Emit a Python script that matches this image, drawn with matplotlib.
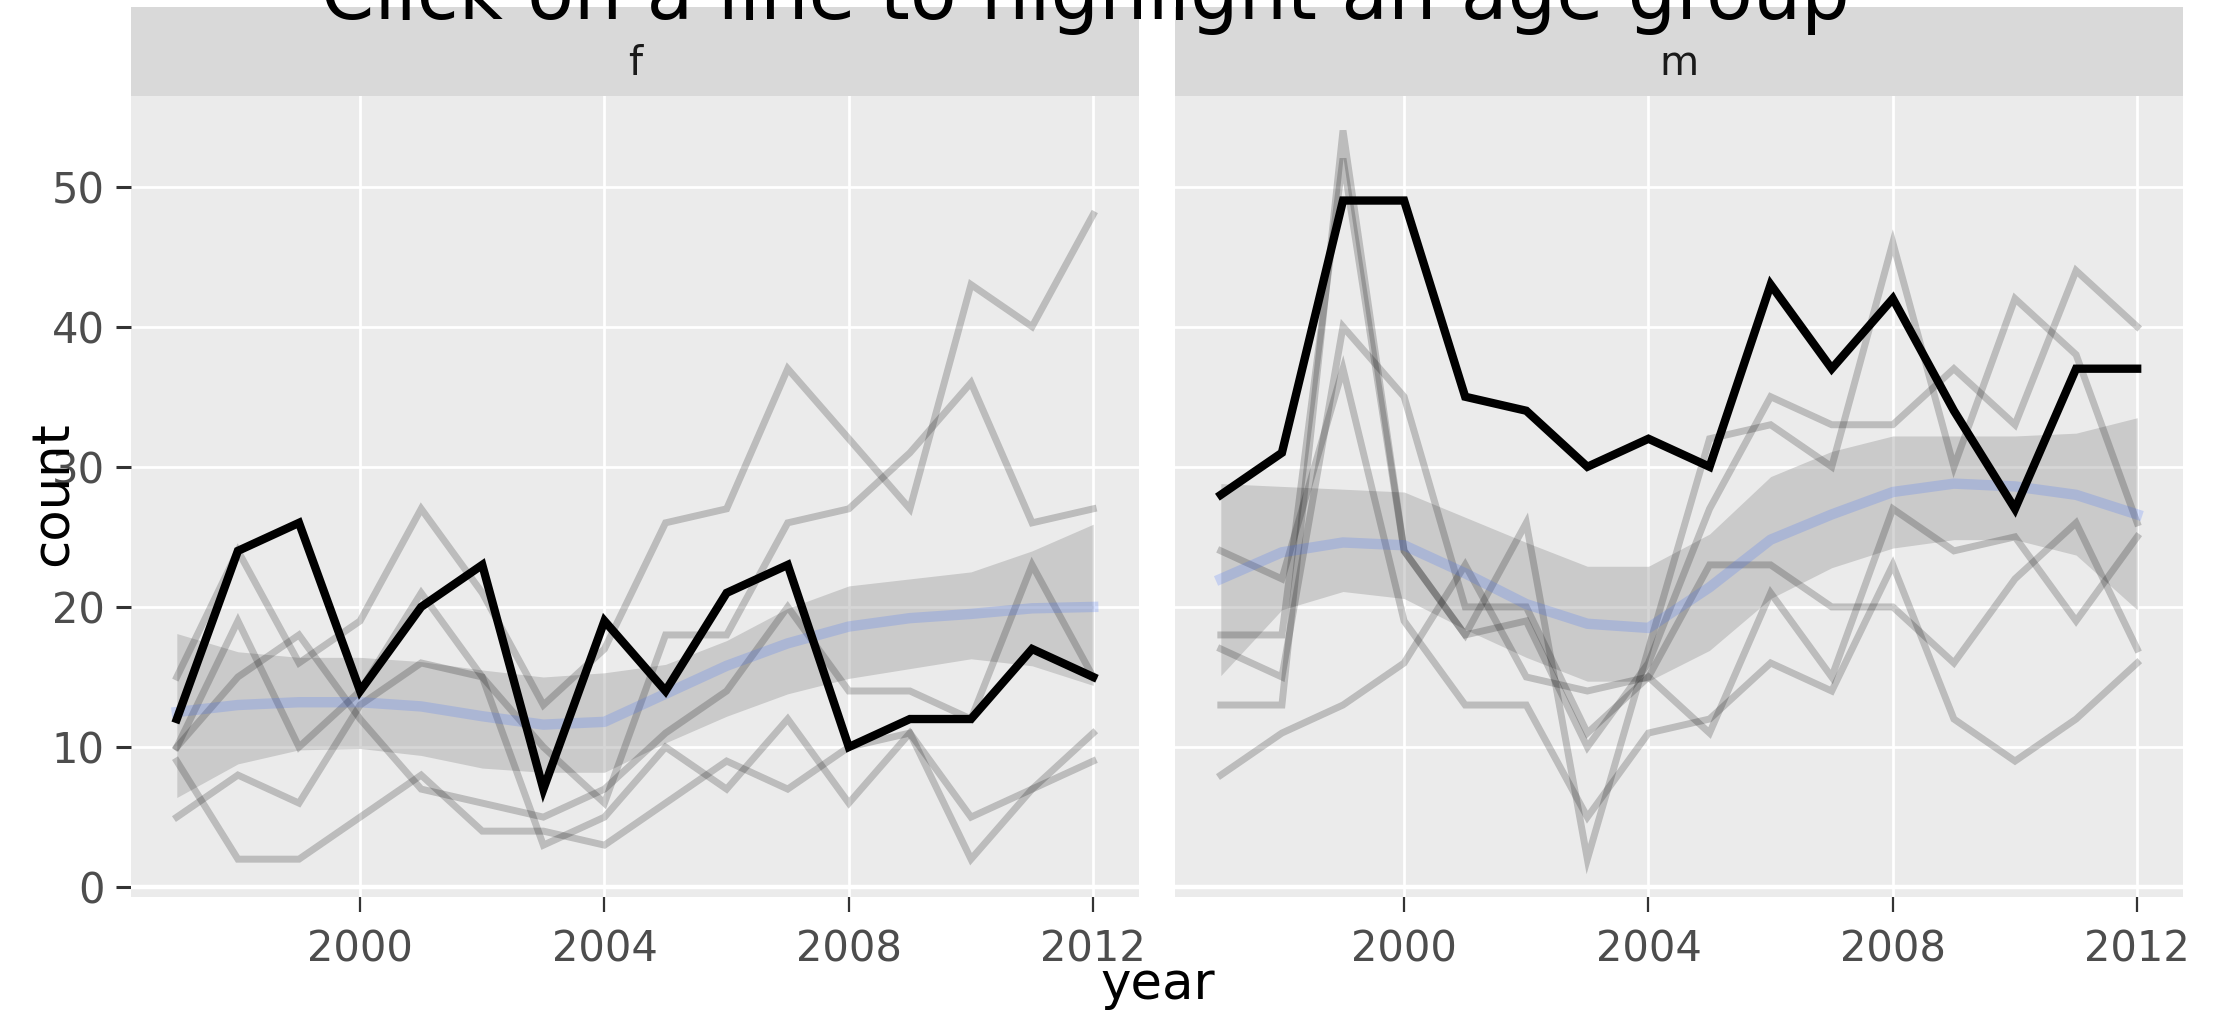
import matplotlib
matplotlib.use("Agg")
import matplotlib.pyplot as plt

years = list(range(1997, 2013))

# counts per age group, sex = f (black line is the highlighted group)
f_highlight = [12, 24, 26, 14, 20, 23, 7, 19, 14, 21, 23, 10, 12, 12, 17, 15]
f_others = [
    [15, 24, 16, 19, 27, 21, 13, 17, 26, 27, 37, 32, 27, 43, 40, 48],
    [10, 19, 10, 14, 21, 15, 10, 6, 18, 18, 26, 27, 31, 36, 26, 27],
    [10, 15, 18, 12, 7, 6, 5, 7, 11, 14, 20, 14, 14, 12, 23, 15],
    [5, 8, 6, 13, 16, 15, 3, 5, 10, 7, 12, 6, 11, 5, 7, 9],
    [9, 2, 2, 5, 8, 4, 4, 3, 6, 9, 7, 10, 11, 2, 7, 11],
]
# smoother (fit and band)
f_fit = [12.5, 13.0, 13.2, 13.2, 12.9, 12.2, 11.6, 11.8, 13.8, 15.8, 17.4, 18.6, 19.2, 19.5, 19.9, 20.0]
f_low = [6.4, 8.8, 9.8, 9.9, 9.4, 8.5, 8.2, 8.2, 10.3, 12.2, 13.8, 14.9, 15.6, 16.3, 15.8, 14.4]
f_high = [18.1, 16.8, 16.4, 16.4, 16.1, 15.5, 15.0, 15.3, 15.9, 17.6, 19.9, 21.5, 22.0, 22.5, 24.0, 25.9]

# sex = m
m_highlight = [28, 31, 49, 49, 35, 34, 30, 32, 30, 43, 37, 42, 34, 27, 37, 37]
m_others = [
    [13, 13, 54, 24, 18, 26, 2, 17, 32, 33, 30, 46, 30, 42, 38, 26],
    [18, 18, 52, 24, 18, 19, 10, 16, 27, 35, 33, 33, 37, 33, 44, 40],
    [8, 11, 13, 16, 23, 15, 14, 15, 23, 23, 20, 20, 16, 22, 26, 17],
    [17, 15, 40, 35, 20, 20, 11, 15, 11, 21, 15, 27, 24, 25, 19, 25],
    [24, 22, 37, 19, 13, 13, 5, 11, 12, 16, 14, 23, 12, 9, 12, 16],
]
m_fit = [22.0, 23.9, 24.6, 24.4, 22.4, 20.2, 18.8, 18.5, 21.4, 24.8, 26.6, 28.2, 28.8, 28.6, 28.0, 26.6]
m_low = [15.1, 19.8, 21.1, 20.6, 18.4, 16.4, 14.7, 14.7, 16.9, 20.6, 22.8, 24.2, 24.8, 24.8, 23.7, 19.8]
m_high = [28.8, 28.6, 28.4, 28.2, 26.4, 24.6, 22.9, 22.9, 25.2, 29.3, 31.1, 32.2, 32.2, 32.2, 32.4, 33.5]

panels = [
    ("f", f_highlight, f_others, f_fit, f_low, f_high),
    ("m", m_highlight, m_others, m_fit, m_low, m_high),
]

x_ticks = [2000, 2004, 2008, 2012]
y_ticks = [0, 10, 20, 30, 40, 50]

W, H = 2215, 1019
fig = plt.figure(figsize=(W / 100, H / 100), dpi=100)

panel_left = [131, 1175]
panel_w = 1008
panel_top, panel_bot = 96, 897
strip_top = 7

for i, (label, hl, others, fit, low, high) in enumerate(panels):
    x0 = panel_left[i] / W
    ax = fig.add_axes([x0, 1 - panel_bot / H, panel_w / W, (panel_bot - panel_top) / H])
    ax.set_facecolor("#EBEBEB")
    for s in ax.spines.values():
        s.set_visible(False)

    ax.fill_between(years, low, high, color="#999999", alpha=0.4, lw=0, zorder=2)
    for vals in others:
        ax.plot(years, vals, color="black", alpha=0.2, lw=5.0,
                solid_joinstyle="miter", zorder=3)
    ax.plot(years, fit, color="#3366FF", alpha=0.2, lw=7.5, zorder=4)
    ax.plot(years, hl, color="black", lw=6.0, solid_joinstyle="miter", zorder=5)

    ax.set_xlim(1996.25, 2012.75)
    ax.set_ylim(-0.7, 56.46)
    ax.set_xticks(x_ticks)
    ax.set_yticks(y_ticks)
    ax.grid(True, color="white", lw=2.0, zorder=1)
    ax.set_axisbelow(True)
    ax.axhline(0, color="white", lw=3.2, zorder=1.5)

    ax.tick_params(axis="x", length=11, width=1.6, color="#333333",
                   labelsize=30, labelcolor="#4D4D4D", pad=12)
    ax.tick_params(axis="y", length=11, width=2.2, color="#333333",
                   labelsize=30, labelcolor="#4D4D4D", pad=8)
    if i == 1:
        ax.tick_params(axis="y", left=False, labelleft=False)

    # facet strip
    sax = fig.add_axes([x0, 1 - panel_top / H, panel_w / W, (panel_top - strip_top) / H])
    sax.set_facecolor("#D9D9D9")
    sax.set_xticks([])
    sax.set_yticks([])
    for s in sax.spines.values():
        s.set_visible(False)
    sax.text(0.5, 0.36, label, ha="center", va="center", fontsize=29,
             color="#1A1A1A", transform=sax.transAxes)

fig.text(0.490, 1 - 19 / H, "Click on a line to highlight an age group",
         ha="center", va="baseline", fontsize=55, color="black", zorder=10)
fig.text(54 / W, 1 - 494 / H, "count", rotation=90, ha="center", va="center",
         fontsize=37, color="black")
fig.text(1158 / W, 1 - 985 / H, "year", ha="center", va="center",
         fontsize=37, color="black")

fig.savefig("out.png", dpi=100)
